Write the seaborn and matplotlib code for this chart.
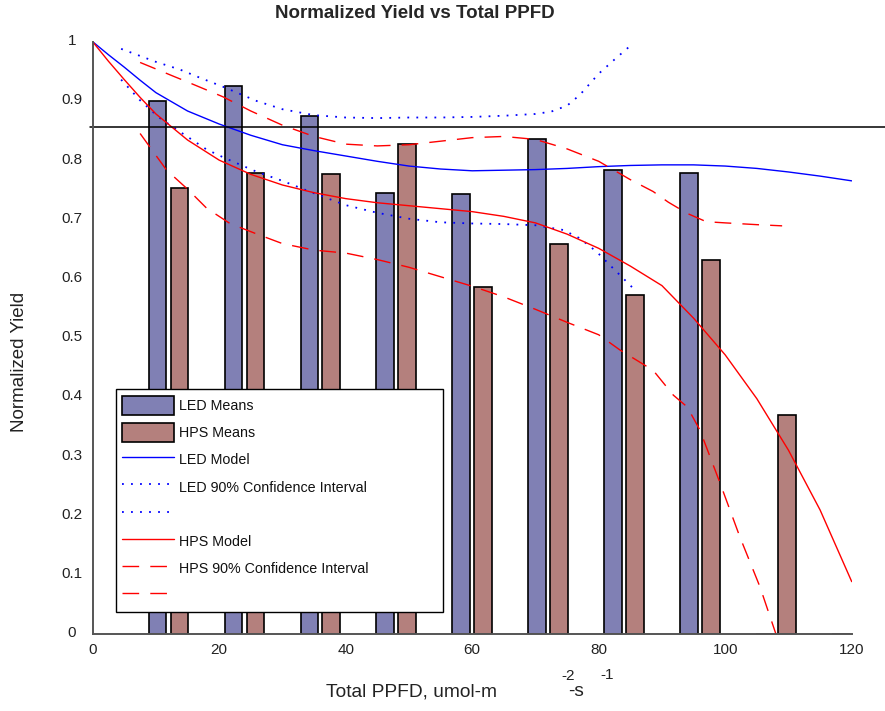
import matplotlib
matplotlib.use("Agg")
import matplotlib.pyplot as plt
import matplotlib.transforms as mtrans
import numpy as np
import pandas as pd
import seaborn as sns
from matplotlib.patches import Patch
from matplotlib.lines import Line2D

# ---------------- data ----------------
ppfd = [12, 24, 36, 48, 60, 72, 84, 96, 108, 120]
led_means = [0.900, 0.926, 0.875, 0.745, 0.742, 0.836, 0.783, 0.778, 0.0, 0.0]
hps_means = [0.753, 0.778, 0.776, 0.828, 0.585, 0.658, 0.572, 0.631, 0.369, 0.0]

led_model_x = [0, 2.5, 5, 7.5, 10, 15, 20, 25, 30, 35, 40, 45, 50, 55, 60, 65, 70, 75,
               80, 85, 90, 95, 100, 105, 110, 115, 120]
led_model_y = [1.0, 0.978, 0.957, 0.935, 0.914, 0.883, 0.861, 0.842, 0.826, 0.816,
               0.807, 0.798, 0.790, 0.785, 0.782, 0.783, 0.784, 0.786, 0.789, 0.791,
               0.792, 0.792, 0.790, 0.786, 0.780, 0.773, 0.765]

led_ci_up_x = [4.5, 7.5, 10, 13.8, 17, 20.6, 25.9, 30, 35, 40, 45, 50, 55, 60, 65,
               70, 72.5, 75, 77, 80, 82.5, 85.3]
led_ci_up_y = [0.988, 0.976, 0.966, 0.953, 0.939, 0.924, 0.900, 0.886, 0.876, 0.872,
               0.871, 0.872, 0.872, 0.873, 0.875, 0.878, 0.882, 0.892, 0.910, 0.946,
               0.970, 0.996]

led_ci_lo_x = [4.5, 7.5, 10.5, 13.8, 18, 21, 26, 30, 35, 40, 45, 50, 55, 60, 65, 70,
               74.4, 77, 79.7, 82.3, 85.5]
led_ci_lo_y = [0.936, 0.901, 0.872, 0.848, 0.818, 0.803, 0.780, 0.765, 0.744, 0.724,
               0.711, 0.701, 0.695, 0.693, 0.692, 0.690, 0.682, 0.668, 0.645, 0.617,
               0.583]

hps_model_x = [0, 2.5, 5, 7.5, 10, 15, 20, 25, 30, 35, 40, 45, 50, 55, 60, 65, 70, 75,
               80, 85, 90, 95, 100, 105, 110, 115, 120]
hps_model_y = [1.0, 0.967, 0.936, 0.906, 0.878, 0.834, 0.800, 0.776, 0.758, 0.745,
               0.735, 0.728, 0.723, 0.718, 0.713, 0.705, 0.694, 0.675, 0.651, 0.621,
               0.588, 0.533, 0.471, 0.397, 0.310, 0.209, 0.088]

hps_ci_up_x = [7.5, 10, 12.7, 15, 20.6, 25, 30, 35, 40, 45, 50, 55, 60, 65, 70, 75,
               80, 85, 88.6, 91, 94, 97, 100, 105, 109]
hps_ci_up_y = [0.965, 0.954, 0.942, 0.932, 0.907, 0.883, 0.859, 0.840, 0.827, 0.824,
               0.826, 0.832, 0.838, 0.840, 0.835, 0.819, 0.798, 0.767, 0.747, 0.729,
               0.710, 0.696, 0.694, 0.691, 0.689]

hps_ci_lo_x = [7.5, 10, 11.7, 15, 18, 21.7, 26, 30, 35, 40, 45, 50, 55, 60, 65, 70,
               75, 80, 83.4, 86, 88.6, 91.8, 94, 96, 99.2, 102.3, 105.5, 108]
hps_ci_lo_y = [0.845, 0.808, 0.783, 0.751, 0.719, 0.693, 0.675, 0.659, 0.648, 0.643,
               0.632, 0.619, 0.603, 0.587, 0.569, 0.548, 0.526, 0.505, 0.479, 0.462,
               0.445, 0.403, 0.383, 0.344, 0.254, 0.164, 0.079, 0.0]

threshold = 0.856

x_ticks = [0, 20, 40, 60, 80, 100, 120]
y_ticks = [0, 0.1, 0.2, 0.3, 0.4, 0.5, 0.6, 0.7, 0.8, 0.9, 1.0]
y_tick_labels = ["0", "0.1", "0.2", "0.3", "0.4", "0.5", "0.6", "0.7", "0.8", "0.9", "1"]

legend_labels = ["LED Means", "HPS Means", "LED Model", "LED 90% Confidence Interval", "",
                 "HPS Model", "HPS 90% Confidence Interval", ""]

# ---------------- style ----------------
sns.set_theme(style="white")
plt.rcParams["font.family"] = ["Liberation Sans", "DejaVu Sans"]

LED_C = "#8080b4"
HPS_C = "#b4807d"
BLUE = "#0000ff"
RED = "#ff0000"
DOT = (0, (1.0, 4.0))
DASH = (0, (12, 8))
TXT = "#222222"

fig = plt.figure(figsize=(8.85, 7.11), dpi=100)
ax = fig.add_axes([0.1047, 0.1087, 0.8577, 0.8326])

df = pd.DataFrame({
    "ppfd": ppfd + ppfd,
    "yield": led_means + hps_means,
    "source": ["LED"] * len(ppfd) + ["HPS"] * len(ppfd),
})
sns.barplot(data=df, x="ppfd", y="yield", hue="source", hue_order=["LED", "HPS"],
            palette={"LED": LED_C, "HPS": HPS_C}, native_scale=True, width=0.578,
            gap=0.19, dodge=True, errorbar=None, edgecolor="black", linewidth=1.2,
            saturation=1, legend=False, ax=ax)

sns.lineplot(x=led_model_x, y=led_model_y, color=BLUE, linewidth=1.0, ax=ax)
sns.lineplot(x=led_ci_up_x, y=led_ci_up_y, color=BLUE, linewidth=1.3, linestyle=DOT, ax=ax)
sns.lineplot(x=led_ci_lo_x, y=led_ci_lo_y, color=BLUE, linewidth=1.3, linestyle=DOT, ax=ax)
sns.lineplot(x=hps_model_x, y=hps_model_y, color=RED, linewidth=1.0, ax=ax)
sns.lineplot(x=hps_ci_up_x, y=hps_ci_up_y, color=RED, linewidth=1.0, linestyle=DASH, ax=ax)
sns.lineplot(x=hps_ci_lo_x, y=hps_ci_lo_y, color=RED, linewidth=1.0, linestyle=DASH, ax=ax)

ax.axhline(threshold, xmin=-0.004, xmax=1.044, color="black", linewidth=1.1, clip_on=False)

ax.set_xlim(0, 120)
ax.set_ylim(0, 1)
ax.set_xticks(x_ticks)
ax.set_xticklabels([str(v) for v in x_ticks])
ax.set_yticks(y_ticks)
ax.set_yticklabels(y_tick_labels)
ax.set_xlabel("")
ax.set_ylabel("")
sns.despine(ax=ax)
for s in ["left", "bottom"]:
    ax.spines[s].set_color("#555555")
    ax.spines[s].set_linewidth(1.4)
ax.tick_params(axis="both", direction="in", length=6, width=1.2, color="#555555",
               labelsize=11, labelcolor=TXT)
ax.tick_params(axis="x", pad=7)
ax.tick_params(axis="y", pad=15)
up = mtrans.ScaledTranslation(0, 1.5 / 72, fig.dpi_scale_trans)
for lab in ax.get_yticklabels():
    lab.set_horizontalalignment("center")
    lab.set_transform(lab.get_transform() + up)

# legend
handles = [
    Patch(facecolor=LED_C, edgecolor="black", linewidth=1.2),
    Patch(facecolor=HPS_C, edgecolor="black", linewidth=1.2),
    Line2D([], [], color=BLUE, linewidth=1.0),
    Line2D([], [], color=BLUE, linewidth=1.3, linestyle=DOT),
    Line2D([], [], color=BLUE, linewidth=1.3, linestyle=DOT),
    Line2D([], [], color=RED, linewidth=1.0),
    Line2D([], [], color=RED, linewidth=1.0, linestyle=DASH),
    Line2D([], [], color=RED, linewidth=1.0, linestyle=DASH),
]
leg = ax.legend(handles, legend_labels, loc="upper left",
                bbox_to_anchor=(0.0303, 0.038, 0.431, 0.375), mode="expand",
                borderaxespad=0, fontsize=10.3, handlelength=3.6, handleheight=1.7,
                handletextpad=0.4, labelspacing=0.55, borderpad=0.45,
                fancybox=False, framealpha=1, edgecolor="black")
leg.get_frame().set_linewidth(1.0)
for t in leg.get_texts():
    t.set_color("#111111")

# texts
fig.text(415 / 885, 1 - 14 / 711, "Normalized Yield vs Total PPFD", ha="center",
         va="center", fontsize=13.5, fontweight="bold")
fig.text(20 / 885, 1 - 362 / 711, "Normalized Yield", rotation=90, ha="center",
         va="center", fontsize=13.5, color=TXT)
fig.text(411 / 885, 1 - 692 / 711, "Total PPFD, umol-m", ha="center", va="center",
         fontsize=13.8, color=TXT)
fig.text(568 / 885, 1 - 676 / 711, "-2", ha="center", va="center", fontsize=11,
         color=TXT)
fig.text(576 / 885, 1 - 692 / 711, "-s", ha="center", va="center", fontsize=13.8,
         color=TXT)
fig.text(607 / 885, 1 - 675 / 711, "-1", ha="center", va="center", fontsize=11,
         color=TXT)

fig.savefig("out.png", dpi=100)
